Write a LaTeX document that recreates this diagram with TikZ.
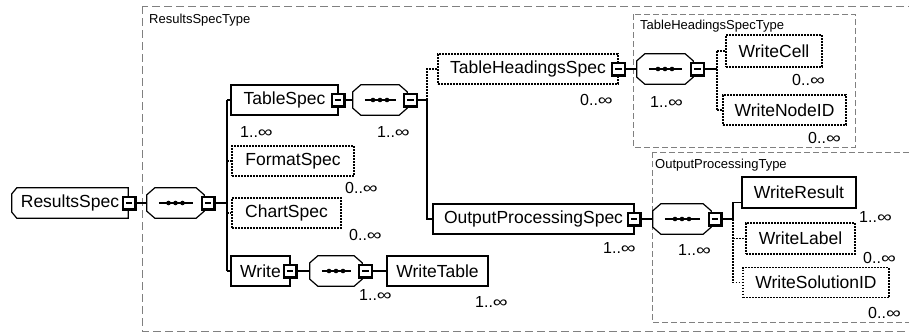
\documentclass[tikz,border=0pt]{standalone}
\usepackage{fontspec}
\usepackage{graphicx}
\setmainfont{Liberation Sans}
\usetikzlibrary{calc}
\newcommand\elemfont{\fontsize{17.5pt}{20pt}\selectfont}
\newcommand\multfont{\fontsize{16pt}{18pt}\selectfont}
\newcommand\typefont{\fontsize{13pt}{15pt}\selectfont}
\newcommand\infsym{\scalebox{1.3}[1]{∞}}
\tikzset{
  elem/.style={draw, line width=1.2pt, rectangle, minimum height=30pt, inner sep=0pt, font=\elemfont, fill=white},
  optelem/.style={elem, line width=1.4pt, dash pattern=on 1.6pt off 1.4pt},
  rootelem/.style={rectangle, minimum height=30pt, inner sep=0pt, font=\elemfont},
  minusbox/.style={draw, line width=2.2pt, fill=white, minimum size=12.8pt, inner sep=0pt},
  compbox/.style={rectangle, minimum height=30pt, inner sep=0pt},
  compline/.style={draw, line width=1.2pt, fill=white},
  link/.style={line width=1.2pt},
  optlink/.style={line width=1.4pt, dash pattern=on 1.6pt off 1.4pt},
  typeouter/.style={draw=black!50, line width=1pt, dash pattern=on 8pt off 4pt},
  typeinner/.style={draw=black!50, line width=1pt, dash pattern=on 6pt off 3pt},
  typelabel/.style={font=\typefont, anchor=base west, inner sep=0pt},
  mult/.style={font=\multfont, anchor=base west, inner sep=0pt},
}
\newcommand\minus[3]{\node[minusbox] (#1) at (#2,#3) {\rule{6.5pt}{2.2pt}};}
\newcommand\seqc[4]{%
  \node[compbox, minimum width=#4pt] (#1) at (#2,#3) {};
  \draw[compline] ([xshift=8pt]#1.north west) -- ([xshift=-8pt]#1.north east) -- ([yshift=-7pt]#1.north east) -- ([yshift=7pt]#1.south east) -- ([xshift=-8pt]#1.south east) -- ([xshift=8pt]#1.south west) -- ([yshift=7pt]#1.south west) -- ([yshift=-7pt]#1.north west) -- cycle;
  \draw[line width=1.5pt] ([xshift=12pt]#1.west) -- ([xshift=-11pt]#1.east);
  \foreach \d in {-7,0,7} \fill ([xshift=\d pt]#1.center) circle[radius=2.3pt];
}
\begin{document}
\begin{tikzpicture}[x=1pt,y=-1pt]
\useasboundingbox (0,0) rectangle (909,332);
\clip (0,0) rectangle (909,332);

% type boxes
\draw[typeouter] (142,6) rectangle (930,331);
\node[typelabel] (lrst) at (149,23) {ResultsSpecType};
\draw[typeinner] (633,14) rectangle (855,147);
\node[typelabel] (lths) at (640,29) {TableHeadingsSpecType};
\draw[typeinner] (652,152) rectangle (930,322);
\node[typelabel] (lopt) at (655,168) {OutputProcessingType};

% trunk coordinates
\coordinate (t0) at (227,203);
\coordinate (t1) at (427,100);
\coordinate (t2) at (717,69);
\coordinate (t3) at (733,219);

% root element
\node[rootelem, minimum width=116pt] (rs) at (70,203) {ResultsSpec};
\draw[line width=1.2pt] ([xshift=5pt]rs.north west) -- (rs.north east) -- (rs.south east) -- ([xshift=5pt]rs.south west) -- ([yshift=6pt]rs.south west) -- ([yshift=-6pt]rs.north west) -- cycle;

% elements
\node[elem, minimum width=107pt] (ts) at (284.5,100) {TableSpec};
\node[optelem, minimum width=122pt] (fs) at (293,161) {FormatSpec};
\node[optelem, minimum width=109pt] (cs) at (286.5,213) {ChartSpec};
\node[elem, minimum width=59pt] (wr) at (260.5,271) {Write};
\node[elem, minimum width=101pt] (wt) at (437.5,271) {WriteTable};
\node[optelem, minimum width=180pt] (ths) at (528,69) {TableHeadingsSpec};
\node[elem, minimum width=201pt] (ops) at (533.5,219) {OutputProcessingSpec};
\node[optelem, minimum width=96pt, minimum height=32pt] (wc) at (774,51) {WriteCell};
\node[optelem, minimum width=123pt] (wn) at (784.5,110) {WriteNodeID};
\node[elem, minimum width=114pt, minimum height=31pt] (wres) at (799,192.5) {WriteResult};
\node[optelem, minimum width=109pt, minimum height=31pt] (wlab) at (800.5,238.5) {WriteLabel};
\node[optelem, minimum width=146pt] (wsol) at (816,282.5) {WriteSolutionID};

% compositors
\seqc{c0}{175.5}{203}{57}
\seqc{c1}{380}{100}{54}
\seqc{c2}{665}{69}{56}
\seqc{c3}{682}{219}{58}
\seqc{c4}{336}{271}{52}

% connectors
\draw[link] (rs.east) -- (c0.west);
\draw[link] (c0.east) -- (t0);
\draw[link] (ts.west -| t0) -- (wr.west -| t0);
\draw[link] (ts.west -| t0) -- (ts.west);
\draw[optlink] (fs.west -| t0) -- (fs.west);
\draw[optlink] (cs.west -| t0) -- (cs.west);
\draw[link] (wr.west -| t0) -- (wr.west);
\draw[link] (wr.east) -- (c4.west);
\draw[link] (c4.east) -- (wt.west);
\draw[link] (ts.east) -- (c1.west);
\draw[link] (c1.east) -- (t1);
\draw[optlink] (t1) -- (ths.west -| t1) -- (ths.west);
\draw[link] (t1) -- (ops.west -| t1) -- (ops.west);
\draw[link] (ths.east) -- (c2.west);
\draw[link] (c2.east) -- (t2);
\draw[optlink] (wc.west -| t2) -- (wn.west -| t2);
\draw[optlink] (wc.west -| t2) -- (wc.west);
\draw[optlink] (wn.west -| t2) -- (wn.west);
\draw[link] (ops.east) -- (c3.west);
\draw[link] (c3.east) -- (t3) |- ([yshift=6pt]wres.south west);
\draw[optlink] (t3) -- (wsol.west -| t3) -- (wsol.west);
\draw[optlink] (wlab.west -| t3) -- (wlab.west);

% minus boxes
\minus{rsm}{129}{203}
\minus{c0m}{208}{203}
\minus{tsm}{338}{100}
\minus{c1m}{410.5}{100}
\minus{wrm}{290}{271}
\minus{c4m}{365.5}{271}
\minus{thsm}{618.5}{69}
\minus{c2m}{697.5}{69}
\minus{opsm}{634}{219}
\minus{c3m}{715}{219}

% multiplicities
\node[mult] (mts) at (240,137) {1..\infsym};
\node[mult] (mc1) at (377,137) {1..\infsym};
\node[mult] (mfs) at (345,193) {0..\infsym};
\node[mult] (mcs) at (349,240) {0..\infsym};
\node[mult] (mc4) at (359,300) {1..\infsym};
\node[mult] (mwt) at (475,307) {1..\infsym};
\node[mult] (mths) at (580,105) {0..\infsym};
\node[mult] (mc2) at (650,107) {1..\infsym};
\node[mult] (mwc) at (792,85) {0..\infsym};
\node[mult] (mwn) at (808,143) {0..\infsym};
\node[mult] (mops) at (603,253) {1..\infsym};
\node[mult] (mc3) at (678,255) {1..\infsym};
\node[mult] (mwres) at (859,222) {1..\infsym};
\node[mult] (mwlab) at (863,263) {0..\infsym};
\node[mult] (mwsol) at (868,318) {0..\infsym};
\end{tikzpicture}
\end{document}
